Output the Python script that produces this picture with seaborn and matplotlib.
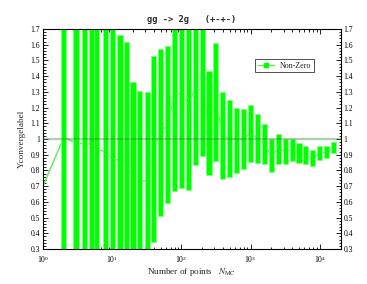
import numpy as np
import pandas as pd
import matplotlib
matplotlib.use("Agg")
import matplotlib.pyplot as plt
import seaborn as sns
from matplotlib.lines import Line2D
from matplotlib.ticker import MultipleLocator, LogLocator, NullFormatter, FuncFormatter

# ---- data ----
n_points = [1, 2, 3, 4, 5, 6, 8, 10, 13, 16, 20, 25, 32, 40, 50, 63, 79, 100, 126,
            158, 200, 251, 316, 398, 501, 631, 794, 1000, 1259, 1585, 1995, 2512,
            3162, 3981, 5012, 6310, 7943, 10000, 12589, 15849]
central = [0.70, 1.01, 0.975, 0.968, 0.968, 0.94, 0.915, 0.88, 0.86, 0.85, 0.74,
           0.73, 0.735, 0.937, 1.041, 1.092, 1.28, 1.29, 1.224, 1.32, 1.31, 1.099,
           1.235, 1.023, 1.004, 0.992, 1.001, 1.036, 1.003, 0.969, 0.897, 0.937,
           0.921, 0.930, 0.911, 0.900, 0.879, 0.911, 0.917, 0.945]
error = [np.nan, 1.5, 1.3, 1.2, 1.1, 1.0, 0.95, 0.9, 0.80, 0.765, 0.62, 0.575,
         0.565, 0.591, 0.530, 0.498, 0.609, 0.60, 0.546, 0.484, 0.42, 0.331, 0.375,
         0.279, 0.243, 0.206, 0.190, 0.181, 0.155, 0.128, 0.106, 0.096, 0.081,
         0.072, 0.063, 0.058, 0.049, 0.046, 0.040, 0.035]
reference_level = 1.0
series_label = "Non-Zero"
title_text = "gg -> 2g   (+-+-)"
x_label = r"Number of points   $N_{\rm MC}$"
y_label = "Yconvergelabel"

df = pd.DataFrame({"N": n_points, "value": central, "err": error})
df["lower"] = df["value"] - df["err"]
df["upper"] = df["value"] + df["err"]

sns.set_theme(style="ticks")
plt.rcParams["font.family"] = ["Liberation Serif", "DejaVu Serif"]
plt.rcParams["mathtext.fontset"] = "stix"

fig = plt.figure(figsize=(3.67, 2.84), dpi=100)
ax = fig.add_axes([0.117, 0.123, 0.811, 0.775])
ax.set_xscale("log")

line_color = "#5fea5f"
sns.lineplot(data=df, x="N", y="value", color=line_color, linewidth=1.0,
             ax=ax, zorder=1, legend=False)

bars = df.dropna()
half = 10 ** 0.037
ax.bar(bars["N"] / half, bars["upper"] - bars["lower"], bottom=bars["lower"],
       width=bars["N"] * (half - 1 / half), align="edge",
       color="#00ff00", edgecolor="#80ff80", linewidth=0.5, zorder=2)

ax.axhline(reference_level, color="#2e8b2e", alpha=0.4, linewidth=1.6, zorder=3)

ax.set_xlim(1, 2e4)
ax.set_ylim(0.3, 1.7)

ax.yaxis.set_major_locator(MultipleLocator(0.1))
ax.yaxis.set_minor_locator(MultipleLocator(0.02))
ax.yaxis.set_major_formatter(FuncFormatter(lambda v, p: f"{v:g}"))
ax.xaxis.set_major_locator(LogLocator(base=10))
ax.xaxis.set_minor_locator(LogLocator(base=10, subs=np.arange(2, 10)))
ax.xaxis.set_minor_formatter(NullFormatter())

ax.tick_params(which="both", direction="in", top=True, right=True,
               labelright=True, labelsize=5.5, width=0.6, pad=2, colors="black")
ax.tick_params(axis="x", which="major", pad=3.5)
ax.tick_params(which="major", length=3.5)
ax.tick_params(which="minor", length=1.8)
for s in ax.spines.values():
    s.set_linewidth(0.8)
    s.set_color("black")

ax.set_title(title_text, fontfamily="DejaVu Sans Mono", fontweight="bold",
             fontsize=6.3, pad=5)
ax.set_xlabel(x_label, fontsize=6.6, labelpad=1)
ax.set_ylabel(y_label, fontsize=6.6, labelpad=3)

handle = Line2D([], [], color=line_color, linewidth=1.0, marker="s",
                markersize=3.5, markerfacecolor="#00ff00", markeredgecolor="#00ff00")
leg = ax.legend(handles=[handle], labels=[series_label], loc="upper left",
                bbox_to_anchor=(0.713, 0.862), frameon=True, fancybox=False,
                fontsize=5.8, handlelength=2.0, borderpad=0.3, handletextpad=0.8,
                borderaxespad=0)
leg.get_frame().set_edgecolor("black")
leg.get_frame().set_linewidth(0.6)

fig.savefig("out.png", dpi=100)
